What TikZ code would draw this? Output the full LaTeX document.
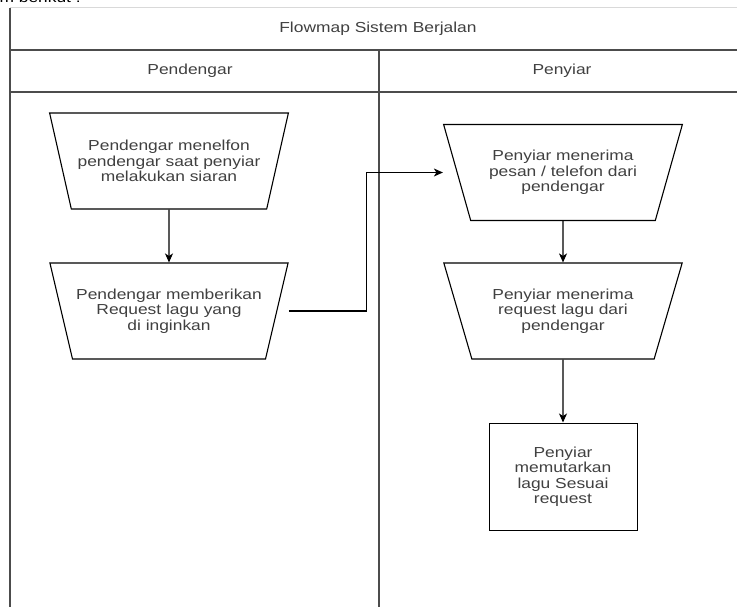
\documentclass[tikz,border=0pt]{standalone}
\usepackage{fontspec}
\setmainfont{Liberation Sans}[FakeStretch=1.2]
\usetikzlibrary{arrows.meta,shapes.geometric}

\begin{document}
\begin{tikzpicture}
  [x=1pt,y=-1pt,>={Stealth[length=9pt,width=8pt,inset=2.5pt]},
   every node/.style={align=center,font=\fontsize{14.5}{15.5}\selectfont,text=black!75},
   lane/.style={draw=black!70,line width=1.6pt},
   flow/.style={->,draw=black,line width=1.1pt}]
  \tikzstyle{proses}=[trapezium,draw,line width=1.1pt,shape border rotate=180,
    trapezium left angle=64,trapezium right angle=64,trapezium stretches=true,
    minimum width=239pt,minimum height=96pt,inner sep=0pt]
  \tikzstyle{akhir}=[rectangle,draw,line width=1pt,minimum width=148pt,minimum height=107pt]
  \useasboundingbox (0,0) rectangle (737,607);
  \clip (0,0) rectangle (737,607);
  \node[anchor=base west,text=black] (potong) at (-4,2.5) {m berikut :};
  \begin{scope}
    \draw[black!15,line width=1pt] (10,8) -- (747,8);
    \draw[lane] (10,8) -- (10,620);
    \draw[lane] (10,50) -- (747,50);
    \draw[lane] (10,92) -- (747,92);
    \draw[lane] (379,50) -- (379,620);
    \node (judul) at (378,29) {Flowmap Sistem Berjalan};
    \node (pendengar) at (190,71) {Pendengar};
    \node (penyiar) at (562,71) {Penyiar};
  \end{scope}
  \begin{scope}
    \node[proses] (p1) at (169,161) {Pendengar menelfon \\ pendengar saat penyiar \\ melakukan siaran};
    \node[proses] (p2) at (169,311) {Pendengar memberikan \\ Request lagu yang \\ di inginkan};
  \end{scope}
  \begin{scope}
    \node[proses] (s1) at (563,172.5) {Penyiar menerima \\ pesan / telefon dari \\ pendengar};
    \node[proses] (s2) at (563,311) {Penyiar menerima \\ request lagu dari \\ pendengar};
    \node[akhir] (s3) at (563,476.5) {Penyiar \\ memutarkan \\ lagu Sesuai \\ request};
  \end{scope}

  \coordinate (keluar) at (p2.center -| p2.bottom left corner);
  \coordinate (masuk) at (s1.center -| s1.bottom right corner);
  \draw[flow] (p1) -- (p2);
  \draw[flow] (keluar) -- ++(78,0) |- (masuk);
  \draw[flow] (s1) -- (s2);
  \draw[flow] (s2) -- (s3);

\end{tikzpicture}
\end{document}
